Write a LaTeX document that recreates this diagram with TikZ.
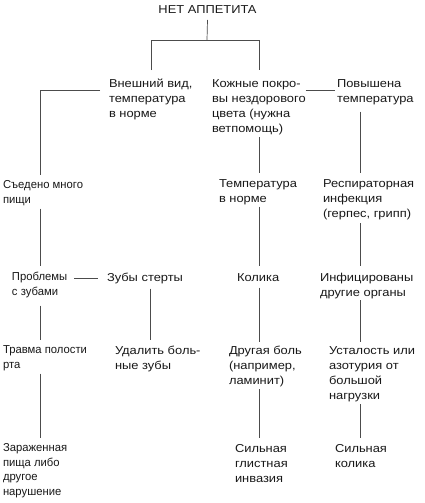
\documentclass[tikz,border=0pt]{standalone}
\usepackage{fontspec}
\setmainfont{Liberation Sans}[FakeStretch=1.12]
\newfontfamily\narrowfont{Liberation Sans}[FakeStretch=0.98]
\usetikzlibrary{calc}
\begin{document}
\begin{tikzpicture}[x=1pt,y=-1pt,
  txt/.style={anchor=north west,inner sep=0pt,outer sep=0pt,align=left,
    font=\fontsize{11.5}{15}\selectfont,text=black!90},
  txtn/.style={txt,font=\narrowfont\fontsize{11.5}{14.5}\selectfont},
  ln/.style={draw=black!70,line width=0.7pt}]
\useasboundingbox (0,0) rectangle (424,503);
\fill[white] (0,0) rectangle (424,503);
% columns and junctions
\coordinate (c1) at (40,0);
\coordinate (c2) at (150,0);
\coordinate (c3) at (259,0);
\coordinate (c4) at (360,0);
\coordinate (j0) at (207,40);
\coordinate (jl) at (151,40);
\coordinate (jr) at (259,40);
% nodes
\node[txt,anchor=north] (t) at (207.5,3.5) {\strut НЕТ АППЕТИТА\strut};
\node[txt] (A) at (109,76.5) {\strut Внешний вид,\\температура\\в норме\strut};
\node[txt] (B) at (212,76.5) {\strut Кожные покро-\\вы нездорового\\цвета (нужна\\ветпомощь)\strut};
\node[txt] (C) at (337,76.5) {\strut Повышена\\температура\strut};
\node[txtn] (D) at (3,178.5) {\strut Съедено много\\пищи\strut};
\node[txt] (E) at (219,176.5) {\strut Температура\\в норме\strut};
\node[txt] (F) at (323,176.5) {\strut Респираторная\\инфекция\\(герпес, грипп)\strut};
\node[txtn] (G) at (12,270.5) {\strut Проблемы\\с зубами\strut};
\node[txt] (H) at (107,270.5) {\strut Зубы стерты\strut};
\node[txt] (I) at (237,270.5) {\strut Колика\strut};
\node[txt] (J) at (320,270.5) {\strut Инфицированы\\другие органы\strut};
\node[txtn] (K) at (3,343.5) {\strut Травма полости\\рта\strut};
\node[txt] (L) at (115,343.5) {\strut Удалить боль-\\ные зубы\strut};
\node[txt] (M) at (229,343.5) {\strut Другая боль\\(например,\\ламинит)\strut};
\node[txt] (N) at (329,343.5) {\strut Усталость или\\азотурия от\\большой\\нагрузки\strut};
\node[txtn] (O) at (3,441.5) {\strut Зараженная\\пища либо\\другое\\нарушение\strut};
\node[txt] (P) at (235,441.5) {\strut Сильная\\глистная\\инвазия\strut};
\node[txt] (Q) at (335,441.5) {\strut Сильная\\колика\strut};
% connectors
\draw[ln] ([yshift=-1.5pt]t.south) -- (j0);
\draw[ln] ([yshift=6.5pt]A.north -| jl) -- (jl) -- (jr) -- ([yshift=6.5pt]B.north -| jr);
\draw[ln] ([xshift=-9pt,yshift=-13.5pt]A.north west) -| ([yshift=3.5pt]D.north -| c1);
\draw[ln] ([yshift=-13.5pt]B.north east) -- ([xshift=-2pt,yshift=-13.5pt]C.north west);
\draw[ln] ([yshift=-0.5pt]B.south -| c3) -- ([yshift=3.5pt]E.north -| c3);
\draw[ln] ([yshift=-5pt]C.south -| c4) -- ([yshift=3.5pt]F.north -| c4);
\draw[ln] ([yshift=-1pt]D.south -| c1) -- ([yshift=5pt]G.north -| c1);
\draw[ln] ([xshift=7pt,yshift=-8pt]G.north east) -- ([xshift=-9pt,yshift=-8pt]H.north west);
\draw[ln] ([yshift=-6pt]G.south -| c1) -- ([yshift=3.5pt]K.north -| c1);
\draw[ln] ([yshift=-3pt]H.south -| c2) -- ([yshift=3.5pt]L.north -| c2);
\draw[ln] ([yshift=0pt]E.south -| c3) -- ([yshift=5pt]I.north -| c3);
\draw[ln] ([yshift=-2pt]I.south -| c3) -- ([yshift=1.5pt]M.north -| c3);
\draw[ln] ([yshift=-1.5pt]F.south -| c4) -- ([yshift=5pt]J.north -| c4);
\draw[ln] ([yshift=0.5pt]J.south -| c4) -- ([yshift=1.5pt]N.north -| c4);
\draw[ln] ([yshift=-1pt]K.south -| c1) -- ([yshift=3.5pt]O.north -| c1);
\draw[ln] ([yshift=-0.5pt]M.south -| c3) -- ([yshift=3.5pt]P.north -| c3);
\draw[ln] ([yshift=-0.5pt]N.south -| c4) -- ([yshift=3.5pt]Q.north -| c4);
\end{tikzpicture}
\end{document}
